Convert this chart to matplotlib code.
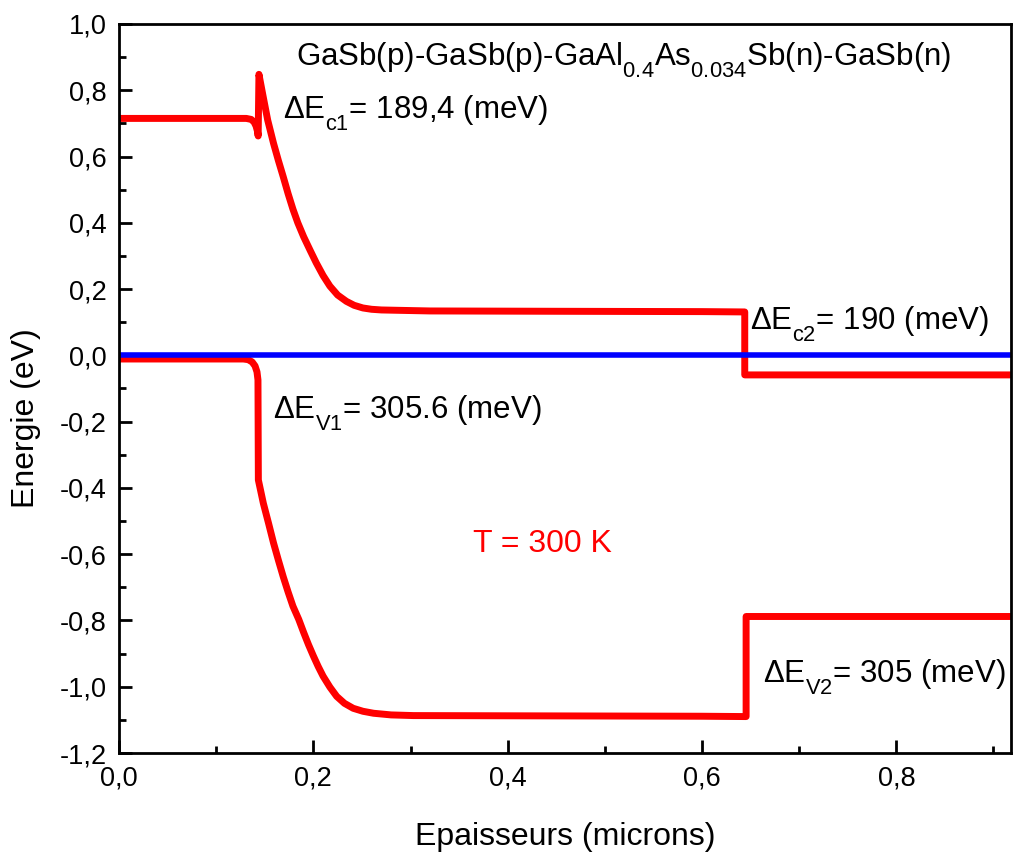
import matplotlib
matplotlib.use("Agg")
import matplotlib.pyplot as plt
from matplotlib.ticker import MultipleLocator, FuncFormatter

try:
    import matplotlib._mathtext as _mt
    _mt.FontConstantsBase.sub1 = 0.75
    _mt.FontConstantsBase.sub2 = 0.75
except Exception:
    pass

plt.rcParams['font.family'] = ['Liberation Sans', 'DejaVu Sans']
plt.rcParams['mathtext.fontset'] = 'custom'
plt.rcParams['mathtext.rm'] = 'Liberation Sans'
plt.rcParams['mathtext.it'] = 'Liberation Sans:italic'
plt.rcParams['mathtext.bf'] = 'Liberation Sans:bold'

# ---- data ----
cb_x = [0.0, 0.131, 0.136, 0.139, 0.141, 0.1425, 0.1432, 0.1440, 0.148, 0.153,
        0.159, 0.164, 0.169, 0.174, 0.179, 0.184, 0.190, 0.197, 0.203, 0.210,
        0.217, 0.225, 0.234, 0.242, 0.251, 0.260, 0.270, 0.286, 0.320, 0.45,
        0.60, 0.644, 0.644, 0.918]
cb_y = [0.715, 0.715, 0.712, 0.704, 0.692, 0.676, 0.662, 0.848, 0.786, 0.710,
        0.640, 0.588, 0.539, 0.488, 0.441, 0.400, 0.358, 0.315, 0.279, 0.241,
        0.209, 0.182, 0.163, 0.151, 0.143, 0.139, 0.137, 0.136, 0.134, 0.133,
        0.132, 0.131, -0.059, -0.059]

vb_x = [0.0, 0.128, 0.133, 0.137, 0.140, 0.1420, 0.1430, 0.1434, 0.1485, 0.154,
        0.159, 0.164, 0.169, 0.174, 0.179, 0.185, 0.190, 0.195, 0.200, 0.205,
        0.210, 0.217, 0.224, 0.232, 0.241, 0.251, 0.262, 0.280, 0.303, 0.45,
        0.60, 0.6454, 0.6454, 0.918]
vb_y = [-0.011, -0.011, -0.013, -0.020, -0.032, -0.050, -0.074, -0.376, -0.446, -0.508,
        -0.566, -0.618, -0.668, -0.714, -0.757, -0.797, -0.836, -0.873, -0.907, -0.939,
        -0.968, -1.001, -1.029, -1.050, -1.065, -1.074, -1.080, -1.085, -1.087, -1.088,
        -1.089, -1.090, -0.788, -0.788]

fermi_x = [0.0, 0.918]
fermi_y = [0.0, 0.0]

x_ticks = [0.0, 0.2, 0.4, 0.6, 0.8]
y_ticks = [-1.2, -1.0, -0.8, -0.6, -0.4, -0.2, 0.0, 0.2, 0.4, 0.6, 0.8, 1.0]

title_txt = r'GaSb(p)-GaSb(p)-GaAl$_{\mathrm{0.4}}$As$_{\mathrm{0.034}}$Sb(n)-GaSb(n)'
ann_c1 = r'ΔE$_{\mathrm{c1}}$= 189,4 (meV)'
ann_c2 = r'ΔE$_{\mathrm{c2}}$= 190 (meV)'
ann_v1 = r'ΔE$_{\mathrm{V1}}$= 305.6 (meV)'
ann_v2 = r'ΔE$_{\mathrm{V2}}$= 305 (meV)'
temp_txt = 'T = 300 K'

# ---- figure ----
fig = plt.figure(figsize=(10.13, 8.56), dpi=100)
ax = fig.add_axes([0.1175, 0.1203, 0.8805, 0.8517])

ax.plot(cb_x, cb_y, color='#ff0000', lw=5.0, solid_joinstyle='round', solid_capstyle='butt')
ax.plot(vb_x, vb_y, color='#ff0000', lw=5.0, solid_joinstyle='round', solid_capstyle='butt')
ax.plot(fermi_x, fermi_y, color='#0000ff', lw=4.0, solid_capstyle='butt')

ax.set_xlim(0.0, 0.918)
ax.set_ylim(-1.2, 1.0)
ax.set_xticks(x_ticks)
ax.set_yticks(y_ticks)
ax.xaxis.set_minor_locator(MultipleLocator(0.1))
ax.yaxis.set_minor_locator(MultipleLocator(0.1))
fmt = FuncFormatter(lambda v, p: f"{v:.1f}".replace('.', ',').replace('-0,0', '0,0'))
ax.xaxis.set_major_formatter(fmt)
ax.yaxis.set_major_formatter(fmt)

ax.tick_params(which='both', direction='in', top=False, right=False, width=2.0,
               labelsize=19.5, colors='black')
ax.tick_params(which='major', length=9.5, pad=9)
ax.tick_params(which='minor', length=5)
for s in ax.spines.values():
    s.set_linewidth(2.0)

ax.set_xlabel('Epaisseurs (microns)', fontsize=23)
ax.set_ylabel('Energie (eV)', fontsize=23)
ax.xaxis.set_label_coords(0.5, -0.095)
ax.yaxis.set_label_coords(-0.088, 0.46)

ax.text(0.519, 0.876, title_txt, fontsize=22.5, ha='center', va='baseline')
ax.text(0.169, 0.715, ann_c1, fontsize=22.5, ha='left', va='baseline')
ax.text(0.6495, 0.080, ann_c2, fontsize=22.5, ha='left', va='baseline')
ax.text(0.1589, -0.189, ann_v1, fontsize=22.5, ha='left', va='baseline')
ax.text(0.6632, -0.985, ann_v2, fontsize=22.5, ha='left', va='baseline')
ax.text(0.364, -0.593, temp_txt, fontsize=23, ha='left', va='baseline', color='#ff0000')

fig.savefig('out.png', dpi=100)
